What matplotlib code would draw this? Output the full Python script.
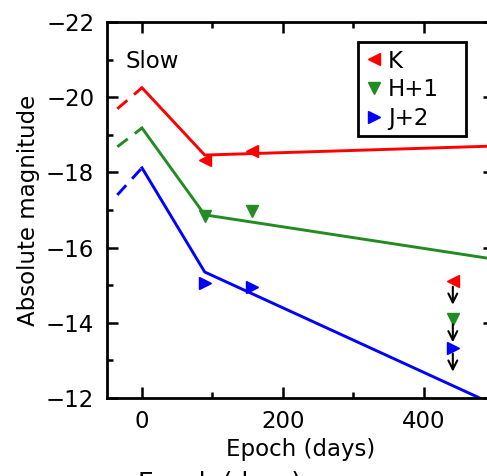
import numpy as np
import matplotlib
matplotlib.use("Agg")
import matplotlib.pyplot as plt
from matplotlib.ticker import MultipleLocator
from matplotlib.patches import Rectangle

plt.rcParams['font.family'] = ['DejaVu Sans']

# model light-curve lines (epoch in days, absolute magnitude)
line_epoch = [0, 89, 500]
k_line = [-20.25, -18.46, -18.70]
h_line = [-19.18, -16.87, -15.69]
j_line = [-18.12, -15.35, -11.82]

# dashed extrapolation before peak
dash_epoch = [-35, 0]
k_dash = [-19.69, -20.25]
h_dash = [-18.68, -19.18]
j_dash = [-17.40, -18.12]

# observed points
obs_epoch = [89, 156]
k_obs = [-18.33, -18.57]
h_obs = [-16.85, -16.98]
j_obs = [-15.06, -14.95]

# upper limits
lim_epoch = 441
k_lim = -15.10
h_lim = -14.10
j_lim = -13.32

fig = plt.figure(figsize=(4.87, 4.76), dpi=100)
ax = fig.add_axes([0.2192, 0.1639, 0.796, 0.790])

cols = ['red', 'forestgreen', 'blue']
marks = ['<', 'v', '>']
labels = ['K', 'H+1', 'J+2']
lines = [k_line, h_line, j_line]
dashes = [k_dash, h_dash, j_dash]
obs = [k_obs, h_obs, j_obs]
lims = [k_lim, h_lim, j_lim]

for c, m, lab, ln, ds, ob, lm in zip(cols, marks, labels, lines, dashes, obs, lims):
    ax.plot(line_epoch, ln, color=c, lw=2.1)
    ax.plot(dash_epoch, ds, color=c, lw=2.1, linestyle=(0, (4.5, 3)))
    ax.plot(obs_epoch, ob, linestyle='none', marker=m, color=c, ms=9,
            markeredgecolor=c, label=lab)
    ax.plot([lim_epoch], [lm], linestyle='none', marker=m, color=c, ms=9)
    ax.annotate('', xy=(lim_epoch, lm + 0.62), xytext=(lim_epoch, lm + 0.14),
                arrowprops=dict(arrowstyle='->', color='k', lw=1.5,
                                shrinkA=0, shrinkB=0, mutation_scale=16))

ax.set_xlim(-50, 500)
ax.set_ylim(-12, -22)
ax.xaxis.set_major_locator(MultipleLocator(200))
ax.xaxis.set_minor_locator(MultipleLocator(100))
ax.yaxis.set_major_locator(MultipleLocator(2))
ax.yaxis.set_minor_locator(MultipleLocator(1))
ax.tick_params(which='both', direction='in', top=True, right=True, width=1.8,
               labelsize=16.5)
ax.tick_params(which='major', length=8, pad=9)
ax.tick_params(which='minor', length=4.5)
for s in ax.spines.values():
    s.set_linewidth(2)

ax.set_xlabel('Epoch (days)', fontsize=16.5, labelpad=3)
ax.set_ylabel('Absolute magnitude', fontsize=16.5, labelpad=4)
ax.text(-23, -20.95, 'Slow', fontsize=16.5, va='center')

# legend: entries without frame, box drawn separately
leg = ax.legend(loc='upper left', bbox_to_anchor=(0.655, 0.945), fontsize=16.5,
                frameon=False, handlelength=0.6, handletextpad=0.3,
                labelspacing=0.25, borderpad=0.3, borderaxespad=0)
ax.add_patch(Rectangle((0.648, 0.697), 0.278, 0.25, transform=ax.transAxes,
                       fill=False, edgecolor='black', lw=2, zorder=5))

# clipped duplicate label at the bottom edge
fig.text(220 / 487, 1 - 471 / 476, 'Epoch (days)', fontsize=18,
         ha='center', va='top')

fig.savefig('out.png', dpi=100)
